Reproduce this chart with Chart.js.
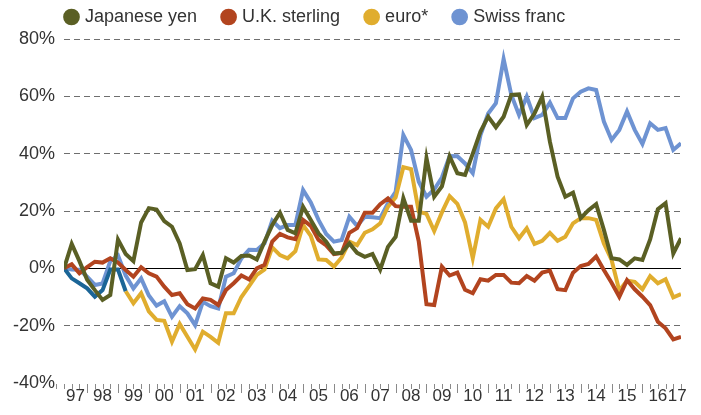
<!DOCTYPE html>
<html>
<head>
<meta charset="utf-8">
<script src="https://cdn.jsdelivr.net/npm/chart.js@4/dist/chart.umd.min.js"></script>
<style>
  html, body { margin: 0; padding: 0; background: #fff; }
  #wrap { width: 701px; height: 415px; }
</style>
</head>
<body>
<div id="wrap"><canvas id="fxChart" width="701" height="415"></canvas></div>
<script>
// quarterly change vs US dollar, %, from 1997 Q2 to 2017 Q2
var firstQuarter = 1997.25;
var lastQuarter = 2017.25;
var yearLabels = ['97', '98', '99', '00', '01', '02', '03', '04', '05', '06', '07',
    '08', '09', '10', '11', '12', '13', '14', '15', '16', '17'];
var seriesNames = ['Japanese yen', 'U.K. sterling', 'euro*', 'Swiss franc'];

var yen = [0, 8.5, 2.5, -4, -7.6, -11, -9.3, 10, 5, 2.5, 16, 21, 20.5, 16.5, 14.5, 8.7,
    -0.6, -0.3, 4.6, -5.2, -6.4, 3.5, 2, 4.3, 4.5, 3.1, 9.3, 15.1, 19.4, 13.4, 12.2, 21.5,
    16.9, 12.2, 9.3, 5.2, 5.4, 8.7, 5.4, 4, 5, -0.4, 7.5, 11, 24.5, 16.6, 16.6, 38.5,
    25, 28.6, 39, 33.2, 32.6, 40, 47.7, 52.9, 49.2, 52.9, 60.5, 60.7, 50, 54, 59.9, 44.2,
    32, 25, 26.4, 17.5, 20.3, 22.4, 13.4, 3.5, 3.1, 1.2, 3.5, 2.9, 10.1, 20.6, 22.7, 5.2, 10.5];

var sterling = [0, 1.4, -1.7, 0.4, 2.3, 2, 3.5, 2, -0.6, -2.9, 0.4, -1.7, -2.9, -6.4, -9.3, -8.7,
    -12.5, -14, -10.5, -11, -12.8, -7.6, -5.2, -2.5, -3.9, 0, 1.2, 9.3, 12, 10.8, 10.2, 16.9,
    14.8, 9.9, 8, 5, 5.4, 12.4, 14, 19.4, 19.4, 22.4, 24.4, 21.7, 21.5, 21.5, 9.3, -12.5,
    -12.8, 0.6, -2.5, -1.5, -7.5, -8.7, -3.8, -4.3, -2.3, -2.3, -5, -5.2, -2.7, -4.3, -1.5, -0.8,
    -7.3, -7.6, -1.5, 0.8, 1.5, 4.1, -0.6, -5, -9.9, -4.1, -7.3, -9.9, -12.8, -18.6, -20.9, -24.8, -23.9];

var euro = [null, null, null, null, null, null, null, null, -8, -12.2, -8.7, -15, -18, -18.3, -25.6, -19.4,
    -23.9, -28.3, -22.1, -23.9, -26, -15.7, -15.7, -10, -6.2, -2.3, -0.4, 7.3, 4.6, 3.5, 6, 15.1,
    11.3, 3.1, 2.9, 0.6, 3.8, 9.3, 8.1, 12.4, 13.6, 15.7, 21.5, 24.8, 35.3, 34.6, 19.8, 19,
    13, 19.5, 25.2, 22.5, 16, 3.5, 16.9, 14.5, 20.9, 24.1, 14.5, 10.5, 14, 8.5, 9.6, 12.4,
    9.6, 11, 15.7, 17.5, 17.5, 16.9, 8.7, 2.9, -7.8, -4.3, -4.7, -7.3, -2.7, -5.2, -3.8, -10.1, -9];

// euro before launch (legacy currencies basket)
var euroLegacy = [0, -3.5, -5.2, -7, -9.9, -7.6, -0.4, -0.4, -8];

var swiss = [0, -0.4, -0.5, -2.9, -5.8, -5.3, 2.5, 4.5, -2.5, -7, -3.5, -9.5, -13, -11.5, -16.9, -13.2,
    -15.7, -19.8, -11.7, -13.2, -14, -2.9, -1.7, 3.5, 6.5, 6.4, 8.7, 16.6, 14, 15.1, 15.1, 27.3,
    23, 16.9, 12, 9.3, 9.9, 18, 14.8, 18, 17.8, 17.5, 22.7, 26.7, 46.5, 41.3, 30.2, 25,
    27.5, 31.7, 39.2, 39.1, 36.6, 33.2, 46.5, 54, 57.6, 73, 60.5, 53.5, 59.9, 52.4, 53.5, 57.8,
    52.4, 52.4, 59.3, 61.6, 62.8, 62.2, 51.2, 44.8, 48.3, 54.7, 48.3, 43.4, 50.6, 48.3, 48.9, 41.3, 43.6];

function toPoints(values) {
    var pts = [];
    for (var i = 0; i < values.length; i++) {
        pts.push({ x: firstQuarter + i / 4, y: values[i] });
    }
    return pts;
}

// label in the middle of the part of each year that has data
var labelSpots = yearLabels.map(function (lbl, i) {
    var y0 = Math.max(1997 + i, firstQuarter);
    var y1 = Math.min(1998 + i, lastQuarter);
    return (y0 + y1) / 2;
});

Chart.defaults.font.family = '"Liberation Sans", Arial, Helvetica, sans-serif';
Chart.defaults.color = '#333';

// legend: a bit more room below, and moved right to line up with the plot
var legendPlace = {
    id: 'legendPlace',
    beforeInit: function (chart) {
        var fit = chart.legend.fit;
        chart.legend.fit = function () {
            fit.call(this);
            this.height += 3;
        };
    },
    afterLayout: function (chart) {
        chart.legend.left += 40;
        chart.legend.right += 40;
    }
};

var axisDecor = {
    id: 'axisDecor',
    beforeDatasetsDraw: function (chart) {
        var ctx = chart.ctx, area = chart.chartArea;
        var y0 = Math.round(chart.scales.y.getPixelForValue(0)) + 0.5;
        ctx.save();
        ctx.strokeStyle = '#000';
        ctx.lineWidth = 1;
        ctx.beginPath();
        ctx.moveTo(area.left, y0);
        ctx.lineTo(area.right, y0);
        ctx.stroke();
        ctx.restore();
    },
    afterDraw: function (chart) {
        var ctx = chart.ctx, xs = chart.scales.x;
        var top = chart.chartArea.bottom + 1;
        ctx.save();
        ctx.strokeStyle = '#8a8a8a';
        ctx.lineWidth = 1;
        for (var q = 0; q <= 81; q++) {
            var v = 1997 + q / 4;
            var px = Math.round(xs.getPixelForValue(v)) + 0.5;
            var len = (q % 4 === 0 && q > 0) ? 9 : 5;
            ctx.beginPath();
            ctx.moveTo(px, top);
            ctx.lineTo(px, top + len);
            ctx.stroke();
        }
        ctx.restore();
    }
};

function line(label, values, color) {
    return {
        label: label,
        data: toPoints(values),
        borderColor: color,
        backgroundColor: color,
        borderWidth: 4,
        pointRadius: 0,
        tension: 0,
        fill: false
    };
}

new Chart(document.getElementById('fxChart'), {
    type: 'line',
    data: {
        datasets: [
            line(seriesNames[0], yen, '#5a5f24'),
            line(seriesNames[1], sterling, '#b2441f'),
            line(seriesNames[2], euro, '#e0ad2e'),
            line('', euroLegacy, '#1b6597'),
            line(seriesNames[3], swiss, '#6e93d2')
        ]
    },
    options: {
        responsive: false,
        animation: false,
        layout: { padding: { top: -19, left: 0, right: 20, bottom: 0 } },
        plugins: {
            tooltip: { enabled: false },
            legend: {
                position: 'top',
                align: 'start',
                labels: {
                    usePointStyle: true,
                    pointStyle: 'circle',
                    boxWidth: 9,
                    boxHeight: 9,
                    padding: 27,
                    color: '#333',
                    font: { size: 18 },
                    filter: function (item) { return item.text !== ''; }
                }
            }
        },
        scales: {
            x: {
                type: 'linear',
                min: firstQuarter,
                max: lastQuarter,
                grid: { display: false, drawTicks: false },
                border: { display: false },
                afterBuildTicks: function (scale) {
                    scale.ticks = labelSpots.map(function (v) { return { value: v }; });
                },
                afterFit: function (scale) { scale.height = 32; },
                ticks: {
                    autoSkip: false,
                    maxRotation: 0,
                    padding: 3,
                    color: '#333',
                    font: { size: 17 },
                    callback: function (value, index) { return yearLabels[index]; }
                }
            },
            y: {
                min: -40,
                max: 80,
                grid: {
                    drawTicks: false,
                    lineWidth: 1,
                    color: function (ctx) {
                        var v = ctx.tick ? ctx.tick.value : null;
                        return (v === 0 || v === -40) ? 'rgba(0,0,0,0)' : '#6e6e6e';
                    }
                },
                border: { display: false, dash: [6, 4] },
                afterFit: function (scale) { scale.width = 64; },
                ticks: {
                    stepSize: 20,
                    padding: 9,
                    color: '#333',
                    font: { size: 18 },
                    callback: function (value) { return value + '%'; }
                }
            }
        }
    },
    plugins: [legendPlace, axisDecor]
});
</script>
</body>
</html>
